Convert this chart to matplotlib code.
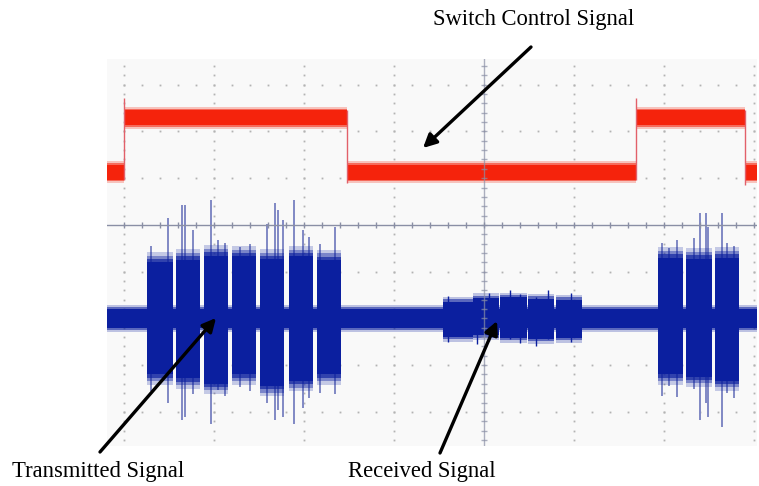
import numpy as np
import matplotlib
matplotlib.use("Agg")
import matplotlib.pyplot as plt

# screen units are scope divisions; centre of the graticule is (0, 0)
# switch control trace (red)
ctrl_edges = [-4.19, -4.0, -1.52, 1.69, 2.90, 3.03]
ctrl_levels = [1.13, 2.29, 1.13, 2.29, 1.13]
ctrl_edge_x = [-4.0, -1.52, 1.69, 2.90]
ctrl_edge_peak = [2.72, 0.90, 2.72, 0.86]
ctrl_noise = 0.16

# RF trace (blue), values relative to its own baseline
rf_offset = -2.0
rf_noise = 0.21
burst_start = [-3.75, -3.42, -3.11, -2.80, -2.49, -2.17, -1.86, 1.93, 2.24, 2.56]
burst_end = [-3.46, -3.16, -2.85, -2.53, -2.22, -1.90, -1.59, 2.21, 2.53, 2.83]
burst_top = [1.20, 1.26, 1.34, 1.33, 1.27, 1.33, 1.25, 1.30, 1.28, 1.30]
burst_bot = [-1.20, -1.28, -1.40, -1.20, -1.45, -1.34, -1.20, -1.20, -1.25, -1.33]

rx_start = [-0.46, -0.12, 0.18, 0.49, 0.80]
rx_end = [-0.13, 0.16, 0.48, 0.78, 1.09]
rx_top = [0.36, 0.44, 0.45, 0.42, 0.40]
rx_bot = [-0.40, -0.36, -0.42, -0.44, -0.42]

spike_x = [-3.70, -3.51, -3.36, -3.32, -3.23, -3.04, -2.96, -2.88, -2.71, -2.60,
           -2.41, -2.32, -2.29, -2.23, -2.11, -2.01, -1.95, -1.82, -1.66,
           1.98, 2.05, 2.14, 2.33, 2.40, 2.46, 2.49, 2.64, 2.70, 2.78]
spike_top = [1.55, 2.14, 2.42, 2.42, 1.89, 2.53, 1.67, 1.62, 1.53, 1.60,
             2.01, 2.46, 2.31, 2.10, 2.53, 1.89, 1.75, 1.60, 1.95,
             1.62, 1.50, 1.67, 1.73, 2.25, 2.25, 1.95, 2.25, 1.62, 1.55]
spike_bot = [-1.55, -1.82, -2.18, -2.12, -1.61, -2.25, -1.54, -1.65, -1.47, -1.55,
             -1.82, -2.18, -1.97, -2.12, -2.25, -1.91, -1.70, -1.60, -1.61,
             -1.65, -1.45, -1.69, -1.50, -2.18, -1.82, -2.12, -2.33, -1.60, -1.70]

rx_spike_x = [-0.40, -0.08, 0.05, 0.29, 0.40, 0.57, 0.71, 0.96]
rx_spike_top = [0.48, 0.40, 0.55, 0.60, 0.52, 0.45, 0.60, 0.55]
rx_spike_bot = [-0.50, -0.55, -0.48, -0.45, -0.52, -0.58, -0.45, -0.50]

W, H = 759, 486
fig = plt.figure(figsize=(W / 100, H / 100), dpi=100)
ax = fig.add_axes([107 / W, 40 / H, 650 / W, 387 / H])
ax.set_xlim(-4.19, 3.03)
ax.set_ylim(-4.73, 3.55)
ax.set_facecolor('#f9f9f9')
for s in ax.spines.values():
    s.set_visible(False)
ax.set_xticks([]); ax.set_yticks([])

# dotted graticule
grid_c = '#b3b3b3'
for gx in [-4, -3, -2, -1, 1, 2, 3]:
    yy = np.arange(-4.6, 3.5, 0.2)
    ax.plot(np.full_like(yy, gx), yy, ls='none', marker='s', ms=1.3, mew=0,
            color=grid_c, zorder=1)
for gy in [3, 2, 1, -1, -2, -3, -4]:
    xx = np.arange(-4.0, 3.03, 0.2)
    ax.plot(xx, np.full_like(xx, gy), ls='none', marker='s', ms=1.3, mew=0,
            color=grid_c, zorder=1)

# red control trace, soft edge layers under a solid core
red = '#f5230c'
lv = np.array(ctrl_levels + [ctrl_levels[-1]])
for pad, alpha in [(0.07, 0.25), (0.035, 0.55), (0.0, 1.0)]:
    ax.fill_between(ctrl_edges, lv - ctrl_noise - pad, lv + ctrl_noise + pad, step='post',
                    color=red, lw=0, alpha=alpha, zorder=3)
for ex, pk in zip(ctrl_edge_x, ctrl_edge_peak):
    i = ctrl_edges.index(ex)
    a, b = ctrl_levels[i - 1], ctrl_levels[i]
    lo = min(a, b, pk) - (ctrl_noise if pk > max(a, b) else 0)
    hi = max(a, b, pk) + (ctrl_noise if pk < min(a, b) else 0)
    ax.vlines(ex, lo, hi, color='#e2606a', lw=1.0, zorder=3)

# blue RF trace
blue = '#0b1f9f'
spike_c = '#8088c4'
for pad, alpha in [(0.08, 0.25), (0.04, 0.55), (0.0, 1.0)]:
    ax.fill_between([ctrl_edges[0], ctrl_edges[-1]], rf_offset - rf_noise - pad,
                    rf_offset + rf_noise + pad, color=blue, lw=0, alpha=alpha, zorder=3)
ax.vlines(spike_x, rf_offset + np.array(spike_bot), rf_offset + np.array(spike_top),
          color=spike_c, lw=1.4, zorder=2.5)

bs, be = np.array(burst_start), np.array(burst_end)
bt, bb = np.array(burst_top), np.array(burst_bot)
for pad, alpha in [(0.22, 0.22), (0.14, 0.4), (0.07, 0.65), (0.0, 1.0)]:
    ax.bar(bs, bt - bb + 2 * pad, width=be - bs, bottom=rf_offset + bb - pad, align='edge',
           color=blue, lw=0, alpha=alpha, zorder=3)

rs, re_ = np.array(rx_start), np.array(rx_end)
rt, rb = np.array(rx_top), np.array(rx_bot)
for pad, alpha in [(0.1, 0.25), (0.05, 0.55), (0.0, 1.0)]:
    ax.bar(rs, rt - rb + 2 * pad, width=re_ - rs, bottom=rf_offset + rb - pad, align='edge',
           color=blue, lw=0, alpha=alpha, zorder=3)
ax.vlines(rx_spike_x, rf_offset + np.array(rx_spike_bot), rf_offset + np.array(rx_spike_top),
          color=blue, lw=1.0, zorder=3)

# centre axes with minor ticks
axis_c = '#8a8fa5'
ax.axhline(0, color=axis_c, lw=1.0, zorder=4)
ax.axvline(0, color=axis_c, lw=1.0, zorder=4, alpha=0.7)
tx = np.arange(-4.0, 3.03, 0.2)
ax.plot(tx, np.zeros_like(tx), ls='none', marker='|', ms=5, mew=1.0, color=axis_c, zorder=4)
ty = np.arange(-4.6, 3.5, 0.2)
ax.plot(np.zeros_like(ty), ty, ls='none', marker='_', ms=5, mew=1.0, color=axis_c,
        zorder=4, alpha=0.7)

# labels and arrows
font = dict(family='Liberation Serif', size=16.3, color='black')
fig.text(433 / W, 1 - 20 / H, 'Switch Control Signal', ha='left', va='center', **font)
fig.text(12 / W, 1 - 471 / H, 'Transmitted Signal', ha='left', va='center', **font)
fig.text(348 / W, 1 - 471 / H, 'Received Signal', ha='left', va='center', **font)

arrow = dict(arrowstyle='-|>', lw=2.4, color='black', mutation_scale=20,
             shrinkA=0, shrinkB=0)
for tail, head in [((531, 47), (423, 148)), ((100, 452), (216, 318)), ((440, 453), (497, 321))]:
    ax.annotate('', xy=(head[0], H - head[1]), xycoords='figure pixels',
                xytext=(tail[0], H - tail[1]), textcoords='figure pixels',
                arrowprops=arrow, annotation_clip=False, zorder=6)

fig.savefig('out.png', dpi=100)
